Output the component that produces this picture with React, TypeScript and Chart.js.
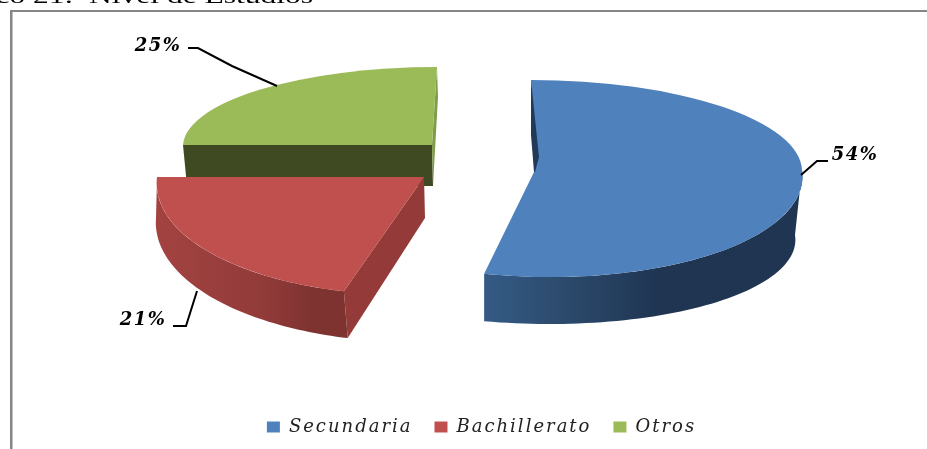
import React, { useEffect, useRef } from "react";
import { Chart, registerables } from "chart.js";

Chart.register(...registerables);

const categories = ["Secundaria", "Bachillerato", "Otros"];
const shares = [54, 21, 25];
const faceColors = ["#4f81bd", "#c0504d", "#9bbb59"];
const titleText = "Gráfico 21:  Nivel de Estudios";

type Half = { ry: number; k: number };
type Look = {
  cx: number; cy: number; rx: number;
  top?: Half; bottom?: Half;
  base: { cx: number; cy: number; rx: number; ry: number; k: number };
  baseApex: [number, number];
  wallStops: [number, string][];
  cut?: { side: "start" | "end"; color: string }[];
};

// Perspective look of each exploded slice (style only; the angles come from the arcs).
const looks: Look[] = [
  {
    cx: 535, cy: 170, rx: 267,
    top: { ry: 90, k: 0.044 }, bottom: { ry: 107, k: 0.15 },
    base: { cx: 535, cy: 235, rx: 260, ry: 89, k: 0.16 },
    baseApex: [534, 172],
    wallStops: [[0, "#345b85"], [0.25, "#2c4a6c"], [0.55, "#1f3552"], [1, "#1f3552"]],
  },
  {
    cx: 424, cy: 177, rx: 267,
    bottom: { ry: 118, k: -0.12 },
    base: { cx: 424, cy: 218, rx: 268, ry: 124, k: -0.08 },
    baseApex: [425, 218],
    wallStops: [[0, "#a34341"], [0.55, "#923b39"], [0.8, "#7f3331"], [1, "#7f3331"]],
    cut: [{ side: "start", color: "#943b39" }],
  },
  {
    cx: 432, cy: 145, rx: 249,
    top: { ry: 78, k: -0.064 },
    base: { cx: 433, cy: 186, rx: 246, ry: 89, k: -0.056 },
    baseApex: [433, 186],
    wallStops: [[0, "#3f4a23"], [1, "#3f4a23"]],
    cut: [{ side: "start", color: "#3f4a23" }, { side: "end", color: "#7f9c49" }],
  },
];

const drawOrder = [2, 1, 0];
const blueNotch: [number, number][] = [[531, 80], [539, 157], [535, 172], [534, 172], [531, 135]];

const callouts = [
  { text: `${shares[0]}%`, x: 855, y: 155, line: [[828, 161], [817, 161], [801, 175]] },
  { text: `${shares[1]}%`, x: 143, y: 320, line: [[173, 326], [186, 326], [197, 291]] },
  { text: `${shares[2]}%`, x: 158, y: 46, line: [[188, 48], [198, 48], [232, 66], [277, 86]] },
];

function face(look: Look, a: number): [number, number] {
  const ux = Math.cos(a), uy = Math.sin(a);
  const h = (uy >= 0 ? look.bottom ?? look.top : look.top ?? look.bottom) as Half;
  return [look.cx + look.rx * ux + h.k * h.ry * uy, look.cy + h.ry * uy];
}

function baseAt(look: Look, a: number): [number, number] {
  const b = look.base;
  const ux = Math.cos(a), uy = Math.sin(a);
  return [b.cx + b.rx * ux + b.k * b.ry * uy, b.cy + b.ry * uy];
}

function poly(ctx: CanvasRenderingContext2D, pts: [number, number][], fill: string | CanvasGradient) {
  ctx.beginPath();
  pts.forEach((p, i) => (i ? ctx.lineTo(p[0], p[1]) : ctx.moveTo(p[0], p[1])));
  ctx.closePath();
  ctx.fillStyle = fill;
  ctx.fill();
}

const setSpacing = (ctx: any, v: string) => {
  ctx.letterSpacing = v;
};
const legendSpacing = "2px";

const piePlugin = {
  id: "tiltedPie",
  beforeLayout(chart: any) {
    setSpacing(chart.ctx, legendSpacing);
  },
  beforeDraw(chart: any) {
    const ctx = chart.ctx as CanvasRenderingContext2D;
    setSpacing(ctx, legendSpacing);
    ctx.save();
    setSpacing(ctx, "0px");
    ctx.fillStyle = "#868686";
    ctx.fillRect(10, 10, chart.width - 10, 2);
    ctx.fillRect(10, 10, 2.5, chart.height - 10);
    ctx.fillStyle = "#000";
    ctx.font = '21px "Liberation Serif"';
    ctx.textAlign = "right";
    ctx.textBaseline = "alphabetic";
    ctx.translate(313, 3);
    ctx.scale(1.5, 1);
    ctx.fillText(titleText, 0, 0);
    ctx.restore();
  },
  beforeDatasetDraw() {
    return false;
  },
  afterDatasetsDraw(chart: any) {
    const ctx = chart.ctx as CanvasRenderingContext2D;
    const arcs = chart.getDatasetMeta(0).data;
    ctx.save();
    setSpacing(ctx, "0px");
    for (const i of drawOrder) {
      const el = arcs[i];
      const look = looks[i];
      const R = el.outerRadius;
      // side cuts along the slice's radial edges
      for (const c of look.cut ?? []) {
        const a = c.side === "start" ? el.startAngle : el.endAngle;
        poly(ctx, [[look.cx, look.cy], face(look, a), baseAt(look, a), look.baseApex], c.color);
      }
      // curved outer wall, only on the front half
      const from = Math.max(el.startAngle, 0);
      const to = Math.min(el.endAngle, Math.PI);
      if (to > from) {
        const n = 60;
        const topEdge: [number, number][] = [];
        const lowEdge: [number, number][] = [];
        for (let s = 0; s <= n; s++) {
          const a = from + ((to - from) * s) / n;
          topEdge.push(face(look, a));
          lowEdge.push(baseAt(look, a));
        }
        const xs = [...topEdge, ...lowEdge].map((p) => p[0]);
        const x0 = Math.min(...xs), x1 = Math.max(...xs);
        const g = ctx.createLinearGradient(x0, 0, x1, 0);
        look.wallStops.forEach(([o, col]) => g.addColorStop(o, col));
        poly(ctx, [...topEdge, ...lowEdge.reverse()], g);
      }
      // the slice's face, drawn by the arc element under the tilt
      for (const [half, isTop] of [[look.top, true], [look.bottom, false]] as [Half | undefined, boolean][]) {
        if (!half) continue;
        ctx.save();
        ctx.beginPath();
        if (isTop) ctx.rect(0, 0, chart.width, look.cy + 0.5);
        else ctx.rect(0, look.cy - 0.5, chart.width, chart.height);
        ctx.clip();
        ctx.translate(look.cx, look.cy);
        ctx.transform(look.rx / R, 0, (half.k * half.ry) / R, half.ry / R, 0, 0);
        ctx.translate(-el.x, -el.y);
        el.draw(ctx);
        ctx.restore();
      }
      if (i === 0) poly(ctx, blueNotch, "#213a59");
    }
    // callouts
    ctx.strokeStyle = "#000";
    ctx.lineWidth = 2;
    ctx.fillStyle = "#000";
    ctx.font = 'italic bold 18px "DejaVu Serif"';
    ctx.textAlign = "center";
    ctx.textBaseline = "middle";
    for (const c of callouts) {
      ctx.beginPath();
      c.line.forEach((p, j) => (j ? ctx.lineTo(p[0], p[1]) : ctx.moveTo(p[0], p[1])));
      ctx.stroke();
      setSpacing(ctx, "1.5px");
      ctx.fillText(c.text, c.x, c.y);
      setSpacing(ctx, "0px");
    }
    ctx.restore();
    setSpacing(ctx, legendSpacing);
  },
};

export default function App() {
  const ref = useRef<HTMLCanvasElement>(null);
  useEffect(() => {
    const chart = new Chart(ref.current as HTMLCanvasElement, {
      type: "pie",
      data: {
        labels: categories,
        datasets: [{ data: shares, backgroundColor: faceColors, borderWidth: 0 }],
      },
      options: {
        responsive: false,
        animation: false,
        events: [],
        layout: { padding: { left: 36, bottom: 3 } },
        plugins: {
          tooltip: { enabled: false },
          legend: {
            position: "bottom",
            labels: {
              boxWidth: 13,
              boxHeight: 11,
              padding: 22,
              color: "#222",
              font: { family: '"DejaVu Serif"', style: "italic", size: 18 },
            },
          },
        },
      },
      plugins: [piePlugin],
    } as any);
    return () => chart.destroy();
  }, []);
  return (
    <div style={{ position: "fixed", left: 0, top: 0, width: 927, height: 449, background: "#fff" }}>
      <canvas ref={ref} width={927} height={449} style={{ display: "block" }} />
    </div>
  );
}
